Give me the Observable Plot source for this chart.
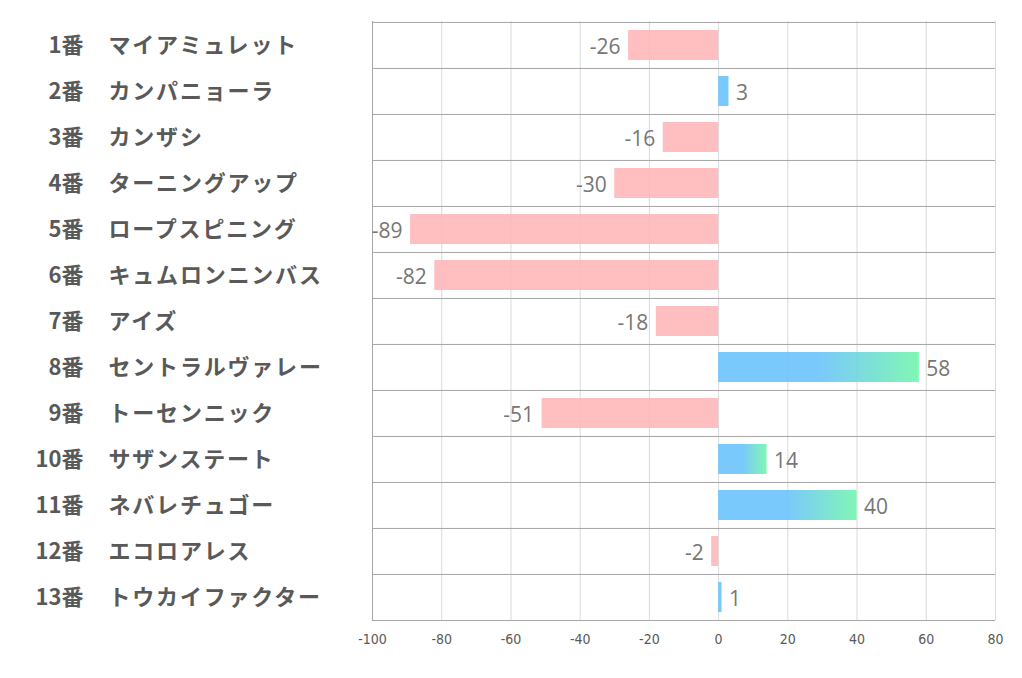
<!DOCTYPE html>
<html>
<head>
<meta charset="utf-8">
<script src="https://cdn.jsdelivr.net/npm/d3@7"></script>
<script src="https://cdn.jsdelivr.net/npm/@observablehq/plot@0.6"></script>
<style>
  html, body { margin: 0; padding: 0; background: #fff; }
  #chart svg { display: block; }
</style>
</head>
<body>
<div id="chart"></div>
<script>
const numbers = ["1番","2番","3番","4番","5番","6番","7番","8番","9番","10番","11番","12番","13番"];
const names = ["マイアミュレット","カンパニョーラ","カンザシ","ターニングアップ","ロープスピニング","キュムロンニンバス","アイズ","セントラルヴァレー","トーセンニック","サザンステート","ネバレチュゴー","エコロアレス","トウカイファクター"];
const values = [-26, 3, -16, -30, -89, -82, -18, 58, -51, 14, 40, -2, 1];
const xTicks = [-100, -80, -60, -40, -20, 0, 20, 40, 60, 80];

const data = numbers.map((n, i) => ({key: n, name: names[i], value: values[i]}));
const neg = data.filter(d => d.value < 0);
const pos = data.filter(d => d.value >= 0);
const step = (620 - 21) / numbers.length;

const chart = Plot.plot({
  width: 1022,
  height: 678,
  marginLeft: 372,
  marginRight: 27,
  marginTop: 21,
  marginBottom: 58,
  style: {background: "#fff", overflow: "visible"},
  x: {domain: [-100, 80]},
  y: {domain: numbers, paddingInner: 0.35, paddingOuter: 0.175, axis: null},
  marks: [
    () => {
      const defs = d3.create("svg:defs");
      const g = defs.append("linearGradient").attr("id", "posgrad")
        .attr("x1", 0).attr("x2", 1).attr("y1", 0).attr("y2", 0);
      g.append("stop").attr("offset", "0").attr("stop-color", "#6cc3fc");
      g.append("stop").attr("offset", "0.5").attr("stop-color", "#6cc3fc");
      g.append("stop").attr("offset", "1").attr("stop-color", "#72f5ad");
      return defs.node();
    },
    Plot.ruleX(xTicks, {stroke: "#d9d9d9", strokeWidth: 1}),
    Plot.ruleX([-100], {stroke: "#a6a6a6", strokeWidth: 1}),
    Plot.ruleY(numbers, {y: d => d, dy: -step / 2, stroke: "#a6a6a6", strokeWidth: 1}),
    Plot.ruleY([numbers[numbers.length - 1]], {y: d => d, dy: step / 2, stroke: "#a6a6a6", strokeWidth: 1}),
    Plot.barX(neg, {x: "value", y: "key", fill: "#ffb3b5", fillOpacity: 0.85}),
    Plot.barX(pos, {x: "value", y: "key", fill: d => d.value > 5 ? "url(#posgrad)" : "#6cc3fc", fillOpacity: 0.9}),
    Plot.text(neg, {x: "value", y: "key", text: d => String(d.value), textAnchor: "end", dx: -8, dy: 2,
      fill: "#767676", fontSize: 21, fontFamily: "'Open Sans', 'Noto Sans', sans-serif"}),
    Plot.text(pos, {x: "value", y: "key", text: d => String(d.value), textAnchor: "start", dx: 7, dy: 2,
      fill: "#767676", fontSize: 21, fontFamily: "'Open Sans', 'Noto Sans', sans-serif"}),
    Plot.text(data, {y: "key", text: "key", frameAnchor: "left", textAnchor: "end", dx: -289, dy: 0,
      fill: "#595959", fontSize: 22, fontWeight: "bold", fontFamily: "'Noto Sans CJK JP', sans-serif"}),
    Plot.text(data, {y: "key", text: "name", frameAnchor: "left", textAnchor: "start", dx: -264, dy: 0,
      fill: "#595959", fontSize: 22, fontWeight: "bold", fontFamily: "'Noto Sans CJK JP', sans-serif",
      style: "letter-spacing: 1.8px"}),
    Plot.axisX(xTicks, {anchor: "bottom", tickSize: 0, tickPadding: 14, fontSize: 14, color: "#595959",
      fontFamily: "'Liberation Sans Narrow', 'DejaVu Sans Condensed', sans-serif", tickFormat: d => String(d), label: null})
  ]
});
// apply letter spacing to the name labels (second text group of labels)
const groups = chart.querySelectorAll("g[aria-label='text']");
if (groups.length) groups[groups.length - 1].setAttribute("letter-spacing", "1.8");
document.getElementById("chart").appendChild(chart);
</script>
</body>
</html>
